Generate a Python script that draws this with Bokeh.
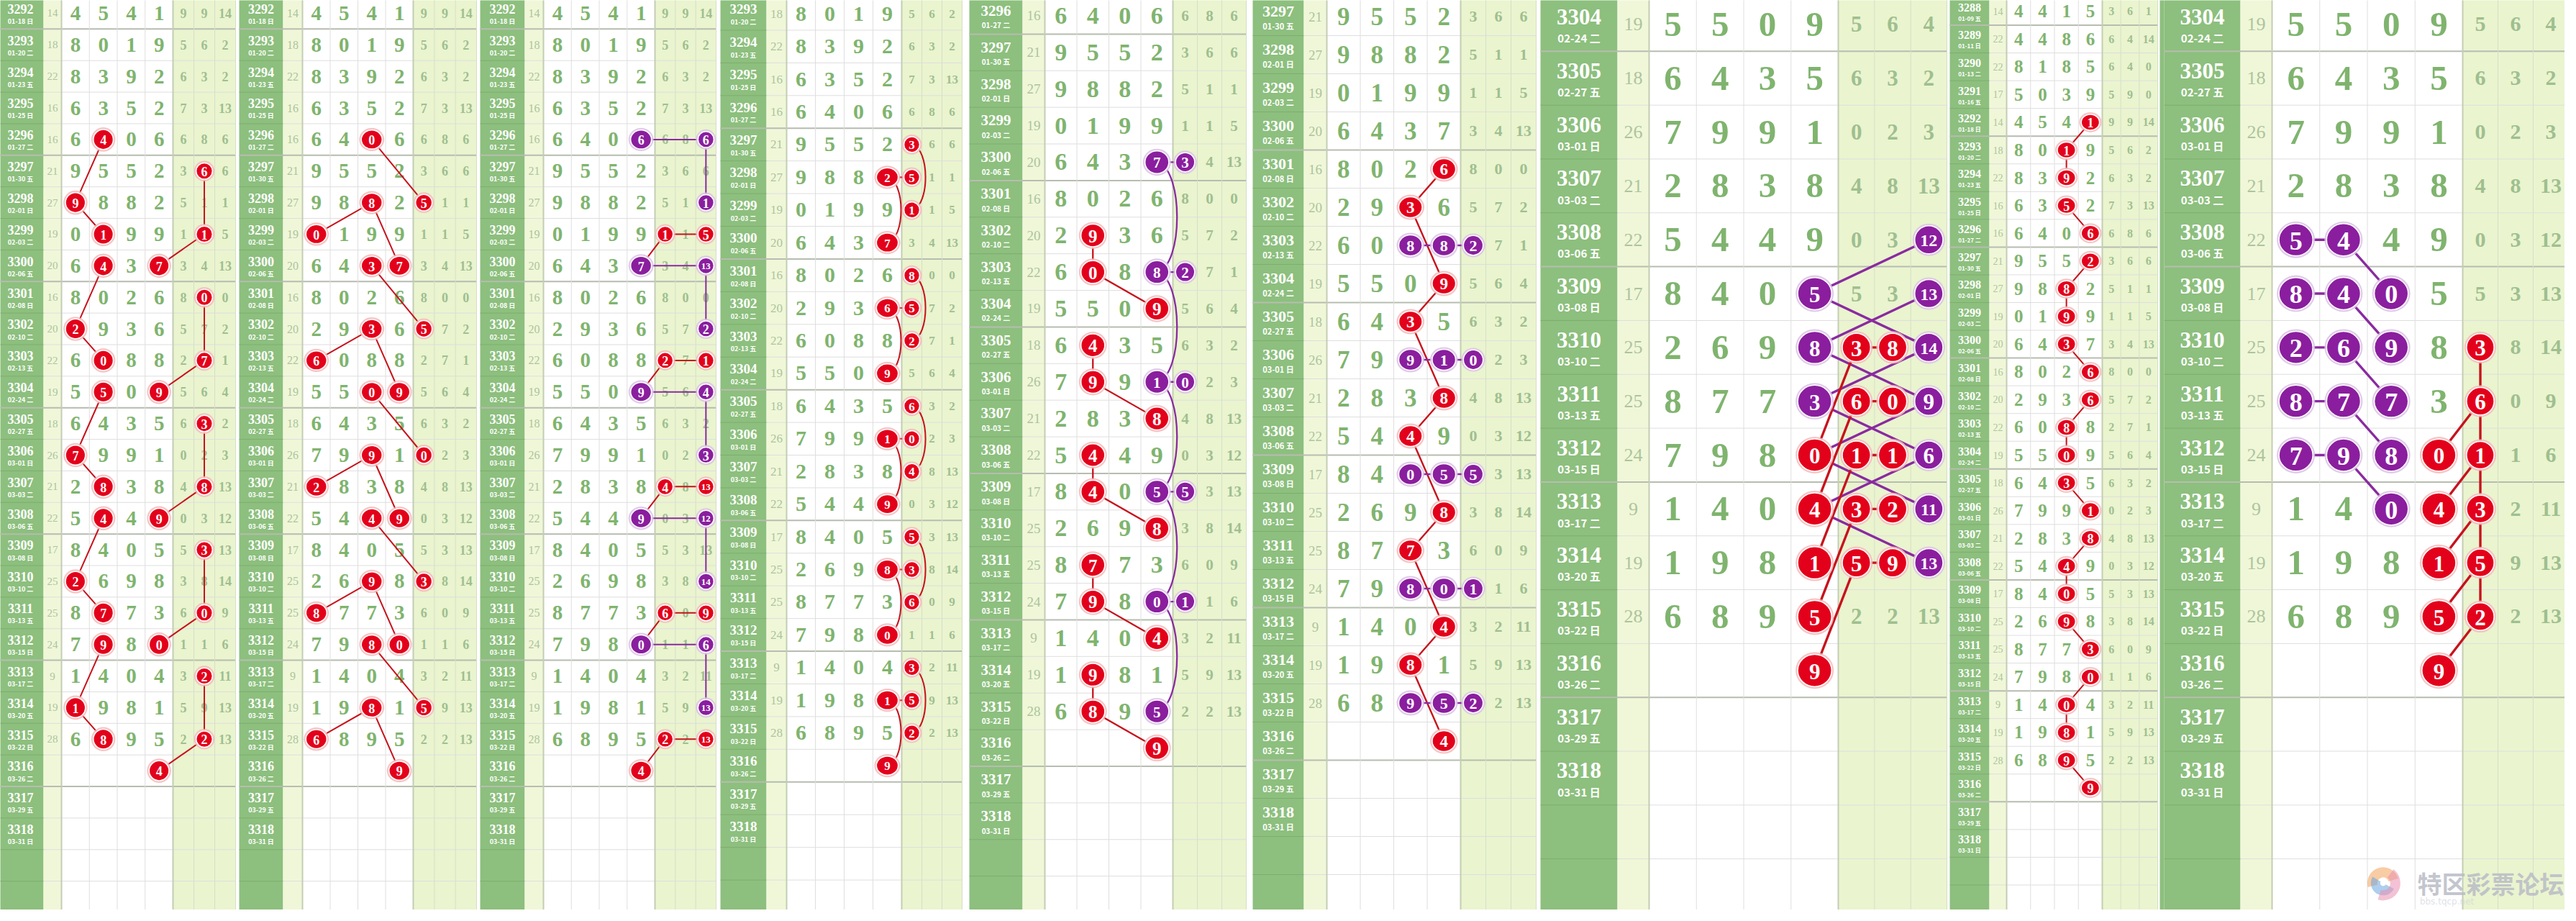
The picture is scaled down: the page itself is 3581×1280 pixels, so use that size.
from bokeh.plotting import figure
from bokeh.models import Range1d
from bokeh.embed import file_html
from bokeh.resources import INLINE
from bokeh.core.properties import value

# ---------------- data ----------------
periods = list(range(3288, 3319))
dates = ["01-09 五", "01-11 日", "01-13 二", "01-16 五", "01-18 日", "01-20 二", "01-23 五", "01-25 日",
         "01-27 二", "01-30 五", "02-01 日", "02-03 二", "02-06 五", "02-08 日", "02-10 二", "02-13 五",
         "02-24 二", "02-27 五", "03-01 日", "03-03 二", "03-06 五", "03-08 日", "03-10 二", "03-13 五",
         "03-15 日", "03-17 二", "03-20 五", "03-22 日", "03-26 二", "03-29 五", "03-31 日"]
sums = [14, 22, 22, 17, 14, 18, 22, 16, 16, 21, 27, 19, 20, 16, 20, 22, 19, 18, 26, 21, 22, 17, 25, 25, 24, 9, 19, 28]
d1 = [4, 4, 8, 5, 4, 8, 8, 6, 6, 9, 9, 0, 6, 8, 2, 6, 5, 6, 7, 2, 5, 8, 2, 8, 7, 1, 1, 6]
d2 = [4, 4, 1, 0, 5, 0, 3, 3, 4, 5, 8, 1, 4, 0, 9, 0, 5, 4, 9, 8, 4, 4, 6, 7, 9, 4, 9, 8]
d3 = [1, 8, 8, 3, 4, 1, 9, 5, 0, 5, 8, 9, 3, 2, 3, 8, 0, 3, 9, 3, 4, 0, 9, 7, 8, 0, 8, 9]
d4 = [5, 6, 5, 9, 1, 9, 2, 2, 6, 2, 2, 9, 7, 6, 6, 8, 9, 5, 1, 8, 9, 5, 8, 3, 0, 4, 1, 5]
ra = [3, 6, 6, 5, 9, 5, 6, 7, 6, 3, 5, 1, 3, 8, 5, 2, 5, 6, 0, 4, 0, 5, 3, 6, 1, 3, 5, 2]
rb = [6, 4, 4, 9, 9, 6, 3, 3, 8, 6, 1, 1, 4, 0, 7, 7, 6, 3, 2, 8, 3, 3, 8, 0, 1, 2, 9, 2]
rc = [1, 14, 0, 0, 14, 2, 2, 13, 6, 6, 1, 5, 13, 0, 2, 1, 4, 2, 3, 13, 12, 13, 14, 9, 6, 11, 13, 13]
watermark = "特区彩票论坛"
watermark_sub = "bbs.tqcp.net"

# highlighted cells: (period, column, text, colour)  columns 0-3 digits, 4-6 right group
P1_MARKS = [(3296, 1, '4', 'r'), (3298, 0, '9', 'r'), (3299, 1, '1', 'r'), (3300, 1, '4', 'r'), (3302, 0, '2', 'r'),
            (3303, 1, '0', 'r'), (3304, 1, '5', 'r'), (3306, 0, '7', 'r'), (3307, 1, '8', 'r'), (3308, 1, '4', 'r'),
            (3310, 0, '2', 'r'), (3311, 1, '7', 'r'), (3312, 1, '9', 'r'), (3314, 0, '1', 'r'), (3315, 1, '8', 'r'),
            (3300, 3, '7', 'r'), (3304, 3, '9', 'r'), (3308, 3, '9', 'r'), (3312, 3, '0', 'r'), (3316, 3, '4', 'r'),
            (3297, 5, '6', 'r'), (3299, 5, '1', 'r'), (3301, 5, '0', 'r'), (3303, 5, '7', 'r'), (3305, 5, '3', 'r'),
            (3307, 5, '8', 'r'), (3309, 5, '3', 'r'), (3311, 5, '0', 'r'), (3313, 5, '2', 'r'), (3315, 5, '2', 'r')]
P1_CHAINS = [('l', 'r', [(3296, 1), (3298, 0), (3299, 1)]), ('l', 'r', [(3300, 1), (3302, 0), (3303, 1)]),
             ('l', 'r', [(3304, 1), (3306, 0), (3307, 1)]), ('l', 'r', [(3308, 1), (3310, 0), (3311, 1)]),
             ('l', 'r', [(3312, 1), (3314, 0), (3315, 1)]),
             ('l', 'r', [(3297, 5), (3299, 5), (3300, 3)]), ('l', 'r', [(3301, 5), (3303, 5), (3304, 3)]),
             ('l', 'r', [(3305, 5), (3307, 5), (3308, 3)]), ('l', 'r', [(3309, 5), (3311, 5), (3312, 3)]),
             ('l', 'r', [(3313, 5), (3315, 5), (3316, 3)])]

P2_MARKS = [(3296, 2, '0', 'r'), (3298, 4, '5', 'r'), (3298, 2, '8', 'r'), (3299, 0, '0', 'r'), (3300, 3, '7', 'r'),
            (3300, 2, '3', 'r'), (3302, 4, '5', 'r'), (3302, 2, '3', 'r'), (3303, 0, '6', 'r'), (3304, 3, '9', 'r'),
            (3304, 2, '0', 'r'), (3306, 4, '0', 'r'), (3306, 2, '9', 'r'), (3307, 0, '2', 'r'), (3308, 3, '9', 'r'),
            (3308, 2, '4', 'r'), (3310, 4, '3', 'r'), (3310, 2, '9', 'r'), (3311, 0, '8', 'r'), (3312, 3, '0', 'r'),
            (3312, 2, '8', 'r'), (3314, 4, '5', 'r'), (3314, 2, '8', 'r'), (3315, 0, '6', 'r'), (3316, 3, '9', 'r')]
P2_CHAINS = [('l', 'r', [(3296, 2), (3298, 4)]), ('l', 'r', [(3299, 0), (3298, 2), (3300, 3)]),
             ('l', 'r', [(3300, 2), (3302, 4)]), ('l', 'r', [(3303, 0), (3302, 2), (3304, 3)]),
             ('l', 'r', [(3304, 2), (3306, 4)]), ('l', 'r', [(3307, 0), (3306, 2), (3308, 3)]),
             ('l', 'r', [(3308, 2), (3310, 4)]), ('l', 'r', [(3311, 0), (3310, 2), (3312, 3)]),
             ('l', 'r', [(3312, 2), (3314, 4)]), ('l', 'r', [(3315, 0), (3314, 2), (3316, 3)])]

P3_MARKS = [(3296, 3, '6', 'v'), (3296, 6, '6', 'v'), (3298, 6, '1', 'v'), (3300, 3, '7', 'v'), (3300, 6, '13', 'v'),
            (3302, 6, '2', 'v'), (3304, 3, '9', 'v'), (3304, 6, '4', 'v'), (3306, 6, '3', 'v'), (3308, 3, '9', 'v'),
            (3308, 6, '12', 'v'), (3310, 6, '14', 'v'), (3312, 3, '0', 'v'), (3312, 6, '6', 'v'), (3314, 6, '13', 'v'),
            (3299, 4, '1', 'r'), (3299, 6, '5', 'r'), (3303, 4, '2', 'r'), (3303, 6, '1', 'r'), (3307, 4, '4', 'r'),
            (3307, 6, '13', 'r'), (3311, 4, '6', 'r'), (3311, 6, '9', 'r'), (3315, 4, '2', 'r'), (3315, 6, '13', 'r'),
            (3316, 3, '4', 'r')]
P3_CHAINS = [('l', 'v', [(3296, 3), (3296, 6), (3298, 6)]), ('l', 'v', [(3300, 3), (3300, 6), (3302, 6)]),
             ('l', 'v', [(3304, 3), (3304, 6), (3306, 6)]), ('l', 'v', [(3308, 3), (3308, 6), (3310, 6)]),
             ('l', 'v', [(3312, 3), (3312, 6), (3314, 6)]),
             ('l', 'r', [(3299, 6), (3299, 4), (3300, 3)]), ('l', 'r', [(3303, 6), (3303, 4), (3304, 3)]),
             ('l', 'r', [(3307, 6), (3307, 4), (3308, 3)]), ('l', 'r', [(3311, 6), (3311, 4), (3312, 3)]),
             ('l', 'r', [(3315, 6), (3315, 4), (3316, 3)])]

P4_MARKS = [(3297, 4, '3', 'r'), (3298, 3, '2', 'r'), (3298, 4, '5', 'r'), (3299, 4, '1', 'r'), (3300, 3, '7', 'r'),
            (3301, 4, '8', 'r'), (3302, 3, '6', 'r'), (3302, 4, '5', 'r'), (3303, 4, '2', 'r'), (3304, 3, '9', 'r'),
            (3305, 4, '6', 'r'), (3306, 3, '1', 'r'), (3306, 4, '0', 'r'), (3307, 4, '4', 'r'), (3308, 3, '9', 'r'),
            (3309, 4, '5', 'r'), (3310, 3, '8', 'r'), (3310, 4, '3', 'r'), (3311, 4, '6', 'r'), (3312, 3, '0', 'r'),
            (3313, 4, '3', 'r'), (3314, 3, '1', 'r'), (3314, 4, '5', 'r'), (3315, 4, '2', 'r'), (3316, 3, '9', 'r')]
P4_CHAINS = []
for _s in (3297, 3301, 3305, 3309, 3313):
    P4_CHAINS += [('l', 'r', [(_s + 1, 3), (_s + 1, 4)]), ('a', 'r', [(_s, 4), (_s + 2, 4)]),
                  ('a', 'r', [(_s + 1, 3), (_s + 3, 3)])]

P5_MARKS = [(3300, 3, '7', 'v'), (3300, 4, '3', 'v'), (3303, 3, '8', 'v'), (3303, 4, '2', 'v'), (3306, 3, '1', 'v'),
            (3306, 4, '0', 'v'), (3309, 3, '5', 'v'), (3309, 4, '5', 'v'), (3312, 3, '0', 'v'), (3312, 4, '1', 'v'),
            (3315, 3, '5', 'v'),
            (3302, 1, '9', 'r'), (3303, 1, '0', 'r'), (3304, 3, '9', 'r'), (3305, 1, '4', 'r'), (3306, 1, '9', 'r'),
            (3307, 3, '8', 'r'), (3308, 1, '4', 'r'), (3309, 1, '4', 'r'), (3310, 3, '8', 'r'), (3311, 1, '7', 'r'),
            (3312, 1, '9', 'r'), (3313, 3, '4', 'r'), (3314, 1, '9', 'r'), (3315, 1, '8', 'r'), (3316, 3, '9', 'r')]
P5_CHAINS = [('l', 'r', [(3302, 1), (3303, 1), (3304, 3)]), ('l', 'r', [(3305, 1), (3306, 1), (3307, 3)]),
             ('l', 'r', [(3308, 1), (3309, 1), (3310, 3)]), ('l', 'r', [(3311, 1), (3312, 1), (3313, 3)]),
             ('l', 'r', [(3314, 1), (3315, 1), (3316, 3)])]
for _s in (3300, 3303, 3306, 3309, 3312):
    P5_CHAINS += [('l', 'v', [(_s, 3), (_s, 4)]), ('a', 'v', [(_s, 3), (_s + 3, 3)])]

P6_MARKS = [(3301, 3, '6', 'r'), (3302, 2, '3', 'r'), (3304, 3, '9', 'r'), (3305, 2, '3', 'r'), (3307, 3, '8', 'r'),
            (3308, 2, '4', 'r'), (3310, 3, '8', 'r'), (3311, 2, '7', 'r'), (3313, 3, '4', 'r'), (3314, 2, '8', 'r'),
            (3316, 3, '4', 'r'),
            (3303, 2, '8', 'v'), (3303, 3, '8', 'v'), (3303, 4, '2', 'v'), (3306, 2, '9', 'v'), (3306, 3, '1', 'v'),
            (3306, 4, '0', 'v'), (3309, 2, '0', 'v'), (3309, 3, '5', 'v'), (3309, 4, '5', 'v'), (3312, 2, '8', 'v'),
            (3312, 3, '0', 'v'), (3312, 4, '1', 'v'), (3315, 2, '9', 'v'), (3315, 3, '5', 'v'), (3315, 4, '2', 'v')]
P6_CHAINS = [('l', 'r', [(3301, 3), (3302, 2), (3304, 3), (3305, 2), (3307, 3), (3308, 2), (3310, 3), (3311, 2),
                         (3313, 3), (3314, 2), (3316, 3)])]
for _s in (3303, 3306, 3309, 3312, 3315):
    P6_CHAINS.append(('l', 'v', [(_s, 2), (_s, 3), (_s, 4)]))

P7_MARKS = [(3308, 6, '12', 'v'), (3309, 3, '5', 'v'), (3309, 6, '13', 'v'), (3310, 3, '8', 'v'), (3310, 6, '14', 'v'),
            (3311, 3, '3', 'v'), (3311, 6, '9', 'v'), (3312, 6, '6', 'v'), (3313, 6, '11', 'v'), (3314, 6, '13', 'v'),
            (3310, 4, '3', 'r'), (3310, 5, '8', 'r'), (3311, 4, '6', 'r'), (3311, 5, '0', 'r'), (3312, 3, '0', 'r'),
            (3312, 4, '1', 'r'), (3312, 5, '1', 'r'), (3313, 3, '4', 'r'), (3313, 4, '3', 'r'), (3313, 5, '2', 'r'),
            (3314, 3, '1', 'r'), (3314, 4, '5', 'r'), (3314, 5, '9', 'r'), (3315, 3, '5', 'r'), (3316, 3, '9', 'r')]
P7_CHAINS = [('l', 'v', [(3308, 6), (3309, 3), (3310, 6)]), ('l', 'v', [(3309, 6), (3310, 3), (3311, 6)]),
             ('l', 'v', [(3310, 6), (3311, 3), (3312, 6)]), ('l', 'v', [(3311, 6), (3312, 3), (3313, 6)]),
             ('l', 'v', [(3312, 6), (3313, 3), (3314, 6)])]
for _s in (3310, 3311, 3312, 3313, 3314):
    P7_CHAINS += [('l', 'r', [(_s, 4), (_s, 5)]), ('l', 'r', [(_s, 4), (_s + 2, 3)])]

P8_MARKS = [(3292, 3, '1', 'r'), (3293, 2, '1', 'r'), (3294, 2, '9', 'r'), (3295, 2, '5', 'r'), (3296, 3, '6', 'r'),
            (3297, 3, '2', 'r'), (3298, 2, '8', 'r'), (3299, 2, '9', 'r'), (3300, 2, '3', 'r'), (3301, 3, '6', 'r'),
            (3302, 3, '6', 'r'), (3303, 2, '8', 'r'), (3304, 2, '0', 'r'), (3305, 2, '3', 'r'), (3306, 3, '1', 'r'),
            (3307, 3, '8', 'r'), (3308, 2, '4', 'r'), (3309, 2, '0', 'r'), (3310, 2, '9', 'r'), (3311, 3, '3', 'r'),
            (3312, 3, '0', 'r'), (3313, 2, '0', 'r'), (3314, 2, '8', 'r'), (3315, 2, '9', 'r'), (3316, 3, '9', 'r')]
P8_CHAINS = []
for _s in (3292, 3297, 3302, 3307, 3312):
    P8_CHAINS += [('l', 'r', [(_s, 3), (_s + 1, 2), (_s + 2, 2)]), ('l', 'r', [(_s + 3, 2), (_s + 4, 3)])]

P9_MARKS = [(3308, 0, '5', 'v'), (3308, 1, '4', 'v'), (3309, 2, '0', 'v'), (3309, 0, '8', 'v'), (3309, 1, '4', 'v'),
            (3310, 2, '9', 'v'), (3310, 0, '2', 'v'), (3310, 1, '6', 'v'), (3311, 2, '7', 'v'), (3311, 0, '8', 'v'),
            (3311, 1, '7', 'v'), (3312, 2, '8', 'v'), (3312, 0, '7', 'v'), (3312, 1, '9', 'v'), (3313, 2, '0', 'v'),
            (3310, 4, '3', 'r'), (3311, 4, '6', 'r'), (3312, 4, '1', 'r'), (3313, 4, '3', 'r'), (3314, 4, '5', 'r'),
            (3315, 4, '2', 'r'), (3312, 3, '0', 'r'), (3313, 3, '4', 'r'), (3314, 3, '1', 'r'), (3315, 3, '5', 'r'),
            (3316, 3, '9', 'r')]
P9_CHAINS = [('l', 'r', [(3310, 4), (3311, 4), (3312, 4), (3313, 4), (3314, 4), (3315, 4)])]
for _s in (3308, 3309, 3310, 3311, 3312):
    P9_CHAINS.append(('l', 'v', [(_s, 0), (_s, 1), (_s + 1, 2)]))
for _s in (3311, 3312, 3313, 3314, 3315):
    P9_CHAINS.append(('l', 'r', [(_s, 4), (_s + 1, 3)]))

# ---------------- layout (page pixels) ----------------
Y0, Y1 = 4, 1276
PANELS = [
    dict(first=3292, n=29, xs=(4, 68, 93, 248, 335), circ=0.63, asp=1.0, bulge=0.4, marks=P1_MARKS, chains=P1_CHAINS),
    dict(first=3292, n=29, xs=(340, 401, 428, 582, 670), circ=0.60, asp=1.1, bulge=0.4, marks=P2_MARKS, chains=P2_CHAINS),
    dict(first=3292, n=29, xs=(675, 737, 763, 918, 1003), circ=0.60, asp=1.1, bulge=0.4, marks=P3_MARKS, chains=P3_CHAINS),
    dict(first=3293, n=28, xs=(1009, 1073, 1101, 1261, 1345), circ=0.58, asp=1.15, bulge=0.42, marks=P4_MARKS, chains=P4_CHAINS),
    dict(first=3296, n=25, xs=(1355, 1429, 1460, 1638, 1740), circ=0.62, asp=1.05, bulge=0.55, marks=P5_MARKS, chains=P5_CHAINS),
    dict(first=3297, n=24, xs=(1749, 1820, 1852, 2038, 2143), circ=0.55, asp=1.12, bulge=0.5, marks=P6_MARKS, chains=P6_CHAINS),
    dict(first=3304, n=17, xs=(2149, 2256, 2300, 2563, 2714), circ=0.60, asp=1.05, bulge=0.5, marks=P7_MARKS, chains=P7_CHAINS),
    dict(first=3288, n=33, xs=(2718, 2773, 2797, 2930, 3007), circ=0.57, asp=1.15, bulge=0.5, marks=P8_MARKS, chains=P8_CHAINS, edge=True),
    dict(first=3304, n=17, xs=(3016, 3122, 3166, 3431, 3578), circ=0.60, asp=1.05, bulge=0.5, marks=P9_MARKS, chains=P9_CHAINS),
]

PER_BG, PER_LINE = "#8dbf7e", "#7eae6f"
SUM_BG, RIGHT_BG = "#f0f7d8", "#eaf4cf"
GRID, THICK = "#dedede", "#b7bdb0"
DIG_C, RIGHT_C, SUM_C = "#7fb46e", "#9fbf8f", "#adc49e"
FILL = {'r': "#e3001b", 'v': "#8a1e9e"}
GLOW = {'r': "#f5bcbc", 'v': "#dcc3e6"}
LINE = {'r': "#c8121c", 'v': "#8a2aa0"}
SERIF = value("Liberation Serif")
CJK = value("Noto Sans CJK SC")

W, H = 3565, 1264
p = figure(width=W, height=H, x_range=Range1d(8, 8 + W), y_range=Range1d(8 + H, 8),
           output_backend="svg", toolbar_location=None, min_border=0,
           x_axis_type=None, y_axis_type=None)
p.outline_line_color = None
p.background_fill_color = "white"
p.border_fill_color = "white"


def px(v):
    return value("%dpx" % max(6, round(v)))


for lay in PANELS:
    first, n = lay['first'], lay['n']
    xp, xsm, xd, xr, xe = lay['xs']
    rh = (Y1 - Y0) / n
    dw = (xr - xd) / 4.0
    rw = (xe - xr) / 3.0

    def cx(col):
        return xd + (col + 0.5) * dw if col < 4 else xr + (col - 4 + 0.5) * rw

    def cy(per):
        return Y0 + (per - first + 0.5) * rh

    # backgrounds
    p.quad(left=[xp, xsm, xd, xr], right=[xsm, xd, xr, xe], top=[Y0] * 4, bottom=[Y1] * 4,
           fill_color=[PER_BG, SUM_BG, "white", RIGHT_BG], line_color=None)
    if lay.get('edge'):
        p.quad(left=[xe + 3], right=[xe + 9], top=[Y0], bottom=[Y1], fill_color=PER_BG, line_color=None)
    # grid lines
    yb = [Y0 + k * rh for k in range(1, n)]
    p.segment(x0=[xsm] * len(yb), x1=[xe] * len(yb), y0=yb, y1=yb, line_color=GRID, line_width=1)
    p.segment(x0=[xp] * len(yb), x1=[xsm] * len(yb), y0=yb, y1=yb, line_color=PER_LINE, line_width=1)
    yk = [Y0 + (i + 1) * rh for i in range(n) if (first + i) % 4 == 0 and first + i <= 3318]
    p.segment(x0=[xp] * len(yk), x1=[xe] * len(yk), y0=yk, y1=yk, line_color=THICK, line_width=2)
    vx = [xd + k * dw for k in (1, 2, 3)]
    p.segment(x0=vx, x1=vx, y0=[Y0] * 3, y1=[Y1] * 3, line_color=GRID, line_width=1)
    vr = [xr + k * rw for k in (1, 2)] + [xe]
    p.segment(x0=vr, x1=vr, y0=[Y0] * 3, y1=[Y1] * 3, line_color="#d6dfc6", line_width=1)
    p.segment(x0=[xd, xr], x1=[xd, xr], y0=[Y0] * 2, y1=[Y1] * 2, line_color="#c3cdb4", line_width=2)

    # period labels and table values
    lx, ly, lt, dx, dy, dt = [], [], [], [], [], []
    tx, ty, tt, rx, ry, rt, sx, sy, st = [], [], [], [], [], [], [], [], []
    for i in range(n):
        per = first + i
        if per not in periods:
            continue
        k = periods.index(per)
        yc = cy(per)
        lx.append((xp + xsm) / 2); ly.append(yc - 0.14 * rh); lt.append(str(per))
        dx.append((xp + xsm) / 2); dy.append(yc + 0.25 * rh); dt.append(dates[k])
        if k < len(sums):
            for c, arr in enumerate((d1, d2, d3, d4)):
                tx.append(cx(c)); ty.append(yc); tt.append(str(arr[k]))
            for c, arr in enumerate((ra, rb, rc)):
                rx.append(cx(4 + c)); ry.append(yc); rt.append(str(arr[k]))
            sx.append((xsm + xd) / 2); sy.append(yc); st.append(str(sums[k]))
    p.text(x=lx, y=ly, text=lt, text_font=SERIF, text_font_style="bold", text_font_size=px(0.42 * rh),
           text_color="white", text_align="center", text_baseline="middle")
    p.text(x=dx, y=dy, text=dt, text_font=CJK, text_font_style="bold", text_font_size=px(0.2 * rh),
           text_color="white", text_align="center", text_baseline="middle")
    p.text(x=tx, y=ty, text=tt, text_font=SERIF, text_font_style="bold", text_font_size=px(min(0.66 * rh, 0.9 * dw)),
           text_color=DIG_C, text_align="center", text_baseline="middle")
    p.text(x=rx, y=ry, text=rt, text_font=SERIF, text_font_style="bold", text_font_size=px(min(0.5 * rh, 0.62 * rw)),
           text_color=RIGHT_C, text_align="center", text_baseline="middle")
    p.text(x=sx, y=sy, text=st, text_font=SERIF, text_font_size=px(min(0.38 * rh, 0.6 * (xd - xsm))),
           text_color=SUM_C, text_align="center", text_baseline="middle")

    # links
    lw = max(2.0, 0.045 * rh)
    for kind, col, pts in lay['chains']:
        xs_ = [cx(c) for _, c in pts]
        ys_ = [cy(pr) for pr, _ in pts]
        if kind == 'l':
            p.line(x=xs_, y=ys_, line_color=LINE[col], line_width=lw)
        else:
            b = lay['bulge'] * rh / 0.75
            p.bezier(x0=[xs_[0]], y0=[ys_[0]], x1=[xs_[1]], y1=[ys_[1]],
                     cx0=[xs_[0] + b], cy0=[ys_[0] + 0.05 * (ys_[1] - ys_[0])],
                     cx1=[xs_[1] + b], cy1=[ys_[1] - 0.05 * (ys_[1] - ys_[0])],
                     line_color=LINE[col], line_width=lw)

    # circles
    for colkey in ('r', 'v'):
        mx, my, mw, mh, single, double = [], [], [], [], [[], [], []], [[], [], []]
        for per, c, t, ck in lay['marks']:
            if ck != colkey:
                continue
            h = lay['circ'] * rh
            cw = dw if c < 4 else rw
            w = min(h * lay['asp'], 0.78 * cw)
            h = min(h, w)
            mx.append(cx(c)); my.append(cy(per)); mw.append(w); mh.append(h)
            tgt = single if len(t) == 1 else double
            tgt[0].append(cx(c)); tgt[1].append(cy(per) + 0.03 * h); tgt[2].append(t)
        if not mx:
            continue
        p.ellipse(x=mx, y=my, width=[w + 6 for w in mw], height=[h + 6 for h in mh],
                  fill_color=GLOW[colkey], fill_alpha=0.85, line_color=None)
        p.ellipse(x=mx, y=my, width=mw, height=mh, fill_color=FILL[colkey], line_color="white", line_width=1.5)
        hh = min(mh)
        if single[0]:
            p.text(x=single[0], y=single[1], text=single[2], text_font=SERIF, text_font_style="bold",
                   text_font_size=px(0.8 * hh), text_color="white", text_align="center", text_baseline="middle")
        if double[0]:
            p.text(x=double[0], y=double[1], text=double[2], text_font=SERIF, text_font_style="bold",
                   text_font_size=px(0.6 * hh), text_color="white", text_align="center", text_baseline="middle")

# watermark in the last panel
lay = PANELS[-1]
xp, xsm, xd, xr, xe = lay['xs']
rh = (Y1 - Y0) / lay['n']
dw = (xr - xd) / 4.0
wy = Y1 - 0.55 * rh
lcx = xd + 2.33 * dw
for r0, r1, a0, a1, colr in ((8, 22, 0.3, 3.4, "#f3a25a"), (4, 17, 2.6, 5.8, "#6aa6e0"), (10, 24, 4.4, 7.2, "#ea8fb0")):
    p.annular_wedge(x=[lcx], y=[wy], inner_radius=r0, outer_radius=r1, start_angle=a0, end_angle=a1,
                    fill_color=colr, fill_alpha=0.55, line_color=None)
p.text(x=[xd + 3.05 * dw], y=[wy], text=[watermark], text_font=CJK, text_font_style="bold",
       text_font_size=value("34px"), text_color="#b9bcc6", text_alpha=0.85, text_align="left", text_baseline="middle")
p.text(x=[xd + 3.1 * dw], y=[wy + 26], text=[watermark_sub], text_font=value("DejaVu Sans"),
       text_font_size=value("12px"), text_color="#d0d4dc", text_alpha=0.7, text_align="left", text_baseline="middle")

open("out.html", "w").write(file_html(p, INLINE))
